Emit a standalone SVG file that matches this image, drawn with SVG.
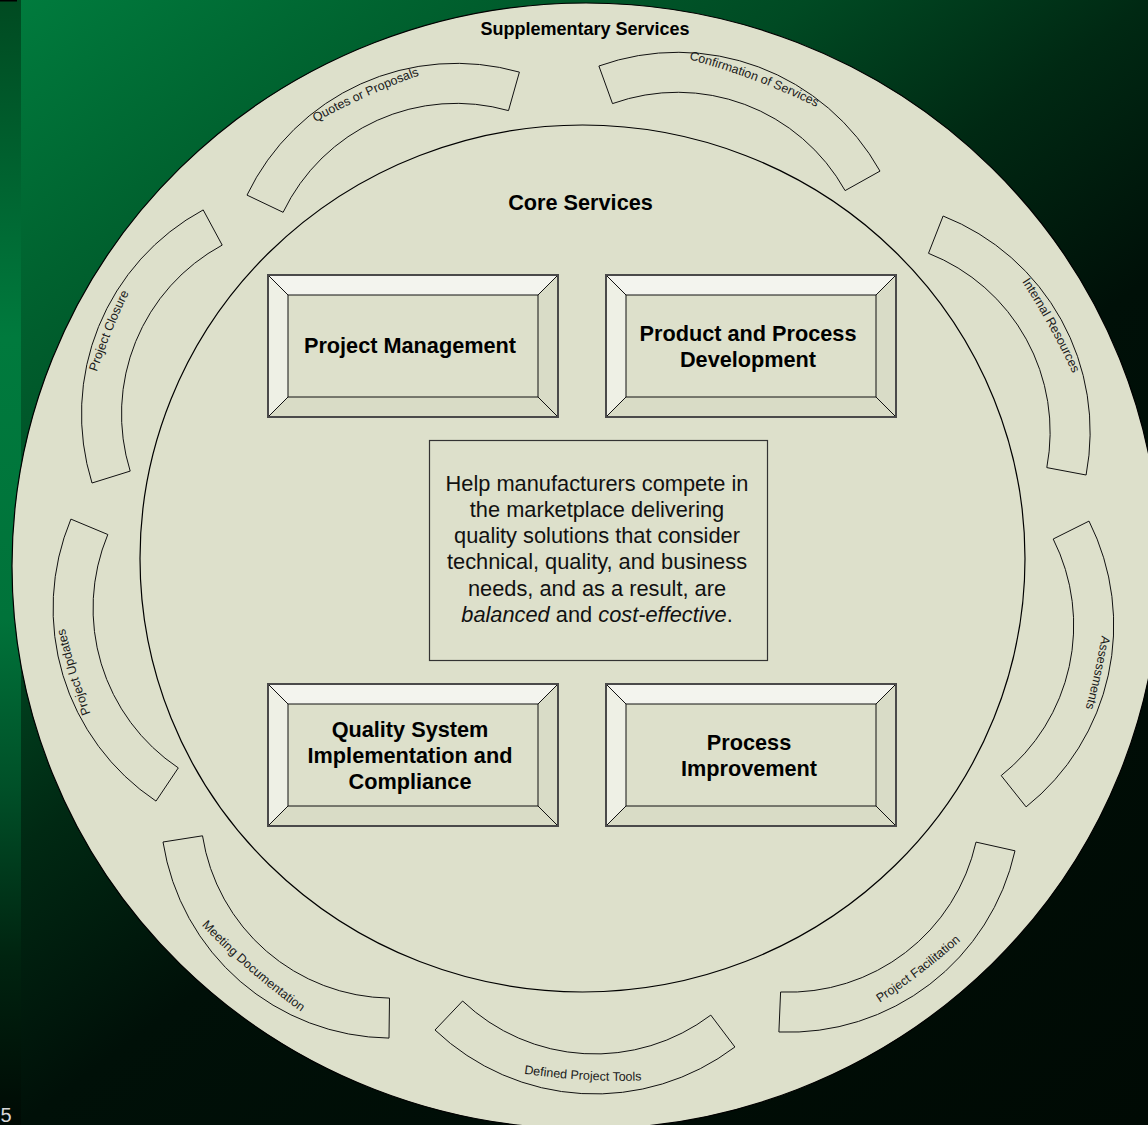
<svg xmlns="http://www.w3.org/2000/svg" width="1148" height="1125" viewBox="0 0 1148 1125">
<defs>
<linearGradient id="bg" gradientUnits="userSpaceOnUse" x1="21" y1="0" x2="967" y2="1261">
<stop offset="0" stop-color="#007b3d"/>
<stop offset="0.15" stop-color="#00622f"/>
<stop offset="0.3" stop-color="#004a23"/>
<stop offset="0.43" stop-color="#002913"/>
<stop offset="0.57" stop-color="#001008"/>
<stop offset="1" stop-color="#000a04"/>
</linearGradient>
<linearGradient id="strip" gradientUnits="userSpaceOnUse" x1="0" y1="0" x2="0" y2="1125">
<stop offset="0" stop-color="#004a21"/>
<stop offset="0.2" stop-color="#006a34"/>
<stop offset="0.3" stop-color="#007a3d"/>
<stop offset="0.55" stop-color="#00733a"/>
<stop offset="0.7" stop-color="#005028"/>
<stop offset="0.85" stop-color="#002410"/>
<stop offset="1" stop-color="#000a04"/>
</linearGradient>
<path id="cw" d="M -99.7 7.13 A 700 700 0 0 1 99.7 7.13"/>
<path id="ccw" d="M -99.7 -7.13 A 700 700 0 0 0 99.7 -7.13"/>
<style>
.ring{fill:#dde0cb;stroke:#000;stroke-width:1.2}
.seg{fill:#dde0cb;stroke:#111;stroke-width:1}
.lbl{font-family:"Liberation Sans",Arial,sans-serif;font-size:12.5px;fill:#1a1a1a;text-anchor:middle}
.title{font-family:"Liberation Sans",Arial,sans-serif;font-weight:bold;fill:#000;text-anchor:middle}
.bt{font-family:"Liberation Sans",Arial,sans-serif;font-weight:bold;font-size:21.7px;fill:#000;text-anchor:middle}
.ct{font-family:"Liberation Sans",Arial,sans-serif;font-size:21.8px;fill:#111;text-anchor:middle}
.bv-top{fill:#f3f4ee}
.bv-left{fill:#eef0e5}
.bv-right{fill:#d9dcc7}
.bv-bot{fill:#d9dcc6}
.bv-line{stroke:#111;stroke-width:1;fill:none}
.bv-face{fill:#dde0cb;stroke:#111;stroke-width:1}
.bv-out{fill:none;stroke:#4a4a4a;stroke-width:2}
</style>
</defs>

<g id="background">
<rect x="0" y="0" width="1148" height="1125" fill="url(#bg)"/>
<rect x="0" y="0" width="21" height="1125" fill="url(#strip)"/>
<rect x="0" y="0" width="17" height="1.5" fill="#000"/>
<text x="0.5" y="1122" font-family="Liberation Sans, Arial, sans-serif" font-size="20" fill="#d8d8d8">5</text>
</g>

<g id="supplementary-ring">
<ellipse class="ring" cx="586" cy="566" rx="574" ry="563"/>
<text class="title" x="585" y="35" font-size="18px">Supplementary Services</text>
</g>

<g id="core-ring">
<ellipse class="ring" cx="582.5" cy="558.5" rx="442.5" ry="433.5"/>
<text class="title" x="580.5" y="209.5" font-size="21.7px">Core Services</text>
</g>

<g id="seg-quotes">
<path class="seg" d="M 247.0 195.1 A 232 232 0 0 1 519.4 72.1 L 508.5 110.6 A 192 192 0 0 0 283.1 212.3 Z"/>
<text class="lbl" transform="translate(366.5 96.6) rotate(-24.3)"><textPath href="#cw" startOffset="50%">Quotes or Proposals</textPath></text>
</g>
<g id="seg-confirmation">
<path class="seg" d="M 598.9 66.0 A 232 232 0 0 1 880.0 171.1 L 845.1 190.6 A 192 192 0 0 0 612.5 103.6 Z"/>
<text class="lbl" transform="translate(753.8 80.1) rotate(20.5)"><textPath href="#cw" startOffset="50%">Confirmation of Services</textPath></text>
</g>
<g id="seg-internal">
<path class="seg" d="M 943.1 216.0 A 232 232 0 0 1 1086.1 475.0 L 1046.8 467.6 A 192 192 0 0 0 928.5 253.3 Z"/>
<text class="lbl" transform="translate(1049.0 326.5) rotate(61.1)"><textPath href="#cw" startOffset="50%">Internal Resources</textPath></text>
</g>
<g id="seg-assessments">
<path class="seg" d="M 1089.0 521.1 A 232 232 0 0 1 1026.1 806.9 L 1001.2 775.6 A 192 192 0 0 0 1053.2 539.0 Z"/>
<text class="lbl" transform="translate(1094.6 672.1) rotate(102.4)"><textPath href="#cw" startOffset="50%">Assessments</textPath></text>
</g>
<g id="seg-facilitation">
<path class="seg" d="M 1015.0 850.8 A 232 232 0 0 1 778.9 1032.0 L 780.6 992.0 A 192 192 0 0 0 976.0 842.1 Z"/>
<text class="lbl" transform="translate(921.3 973.2) rotate(-37.5)"><textPath href="#ccw" startOffset="50%">Project Facilitation</textPath></text>
</g>
<g id="seg-tools">
<path class="seg" d="M 734.9 1047.0 A 232 232 0 0 1 435.0 1030.0 L 462.6 1001.0 A 192 192 0 0 0 710.8 1015.1 Z"/>
<text class="lbl" transform="translate(582.6 1079.6) rotate(3.25)"><textPath href="#ccw" startOffset="50%">Defined Project Tools</textPath></text>
</g>
<g id="seg-meeting">
<path class="seg" d="M 389.0 1038.1 A 232 232 0 0 1 163.0 842.0 L 202.5 835.8 A 192 192 0 0 0 389.5 998.1 Z"/>
<text class="lbl" transform="translate(249.3 970.8) rotate(40.95)"><textPath href="#ccw" startOffset="50%">Meeting Documentation</textPath></text>
</g>
<g id="seg-updates">
<path class="seg" d="M 156.0 801.1 A 232 232 0 0 1 70.9 519.1 L 107.8 534.5 A 192 192 0 0 0 178.3 767.9 Z"/>
<text class="lbl" transform="translate(76.4 671.3) rotate(-106.8)"><textPath href="#cw" startOffset="50%">Project Updates</textPath></text>
</g>
<g id="seg-closure">
<path class="seg" d="M 92.0 483.0 A 232 232 0 0 1 203.2 209.9 L 222.2 245.1 A 192 192 0 0 0 130.2 471.1 Z"/>
<text class="lbl" transform="translate(111.6 331.8) rotate(-67.85)"><textPath href="#cw" startOffset="50%">Project Closure</textPath></text>
</g>

<g id="box-project-management">
<polygon class="bv-top" points="268,275 558,275 538,295 288,295"/>
<polygon class="bv-left" points="268,275 288,295 288,397 268,417"/>
<polygon class="bv-right" points="558,275 558,417 538,397 538,295"/>
<polygon class="bv-bot" points="268,417 288,397 538,397 558,417"/>
<rect class="bv-face" x="288" y="295" width="250" height="102"/>
<path class="bv-line" d="M268 275 L288 295 M558 275 L538 295 M268 417 L288 397 M558 417 L538 397"/>
<rect class="bv-out" x="268" y="275" width="290" height="142"/>
<text class="bt" x="410" y="353">Project Management</text>
</g>

<g id="box-product-process">
<polygon class="bv-top" points="606,275 896,275 876,295 626,295"/>
<polygon class="bv-left" points="606,275 626,295 626,397 606,417"/>
<polygon class="bv-right" points="896,275 896,417 876,397 876,295"/>
<polygon class="bv-bot" points="606,417 626,397 876,397 896,417"/>
<rect class="bv-face" x="626" y="295" width="250" height="102"/>
<path class="bv-line" d="M606 275 L626 295 M896 275 L876 295 M606 417 L626 397 M896 417 L876 397"/>
<rect class="bv-out" x="606" y="275" width="290" height="142"/>
<text class="bt" x="748" y="340.5">Product and Process</text>
<text class="bt" x="748" y="366.5">Development</text>
</g>

<g id="box-mission">
<rect x="429.5" y="440.5" width="338" height="220" fill="#dde0cb" stroke="#333" stroke-width="1.2"/>
<text class="ct" x="597" y="491">Help manufacturers compete in</text>
<text class="ct" x="597" y="517">the marketplace delivering</text>
<text class="ct" x="597" y="543.3">quality solutions that consider</text>
<text class="ct" x="597" y="569.4">technical, quality, and business</text>
<text class="ct" x="597" y="595.6">needs, and as a result, are</text>
<text class="ct" x="597" y="621.7"><tspan font-style="italic">balanced</tspan> and <tspan font-style="italic">cost-effective</tspan>.</text>
</g>

<g id="box-quality-system">
<polygon class="bv-top" points="268,684 558,684 538,704 288,704"/>
<polygon class="bv-left" points="268,684 288,704 288,806 268,826"/>
<polygon class="bv-right" points="558,684 558,826 538,806 538,704"/>
<polygon class="bv-bot" points="268,826 288,806 538,806 558,826"/>
<rect class="bv-face" x="288" y="704" width="250" height="102"/>
<path class="bv-line" d="M268 684 L288 704 M558 684 L538 704 M268 826 L288 806 M558 826 L538 806"/>
<rect class="bv-out" x="268" y="684" width="290" height="142"/>
<text class="bt" x="410" y="736.5">Quality System</text>
<text class="bt" x="410" y="762.5">Implementation and</text>
<text class="bt" x="410" y="788.5">Compliance</text>
</g>

<g id="box-process-improvement">
<polygon class="bv-top" points="606,684 896,684 876,704 626,704"/>
<polygon class="bv-left" points="606,684 626,704 626,806 606,826"/>
<polygon class="bv-right" points="896,684 896,826 876,806 876,704"/>
<polygon class="bv-bot" points="606,826 626,806 876,806 896,826"/>
<rect class="bv-face" x="626" y="704" width="250" height="102"/>
<path class="bv-line" d="M606 684 L626 704 M896 684 L876 704 M606 826 L626 806 M896 826 L876 806"/>
<rect class="bv-out" x="606" y="684" width="290" height="142"/>
<text class="bt" x="749" y="749.5">Process</text>
<text class="bt" x="749" y="775.5">Improvement</text>
</g>

<g id="connectors"/>
</svg>
